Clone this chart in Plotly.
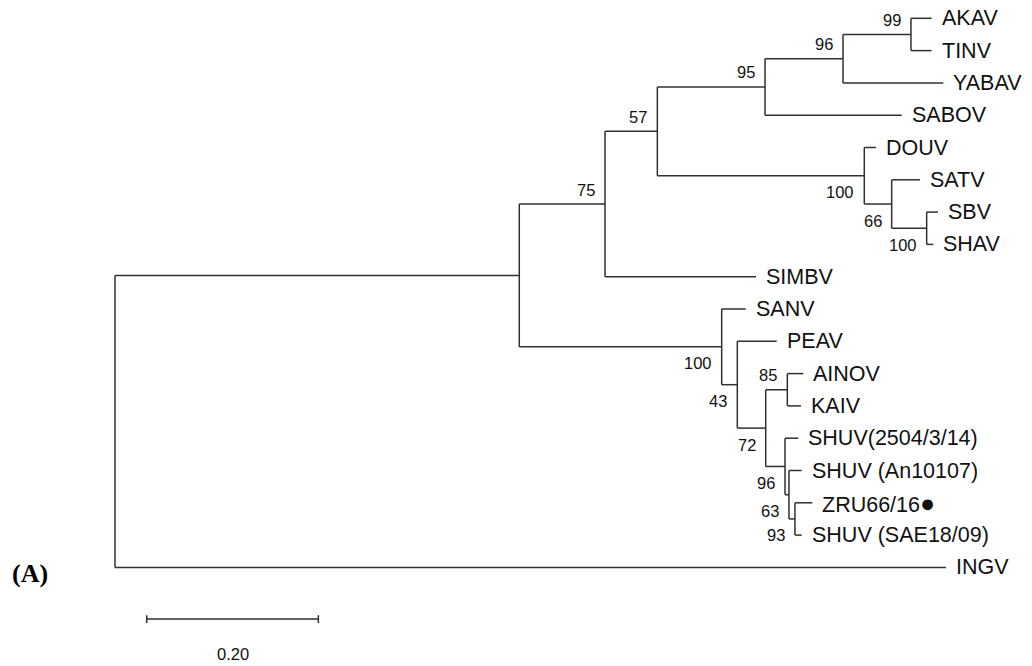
import plotly.graph_objects as go

# ---- tree data (preorder; children kept in drawing order) ----
node_names = ["root", "n1", "n75", "n57", "n95", "n96", "n99", "AKAV", "TINV", "YABAV",
              "SABOV", "n100a", "DOUV", "n66", "SATV", "n100b", "SBV", "SHAV", "SIMBV",
              "n100c", "SANV", "n43", "PEAV", "n72", "n85", "AINOV", "KAIV", "n96b",
              "SHUV(2504/3/14)", "n63", "SHUV (An10107)", "n93", "ZRU66/16", "SHUV (SAE18/09)",
              "INGV"]
node_parents = [-1, 0, 1, 2, 3, 4, 5, 6, 6, 5,
                4, 3, 11, 11, 13, 13, 15, 15, 2,
                1, 19, 19, 21, 21, 23, 24, 24, 23,
                27, 27, 29, 29, 31, 31,
                0]
branch_lengths = [0.0, 0.4712, 0.0999, 0.0610, 0.1255, 0.0909, 0.0792, 0.0241, 0.0241, 0.1169,
                  0.1593, 0.2412, 0.0136, 0.0319, 0.0330, 0.0408, 0.0132, 0.0077, 0.1760,
                  0.2359, 0.0280, 0.0182, 0.0459, 0.0331, 0.0252, 0.0186, 0.0159, 0.0225,
                  0.0155, 0.0046, 0.0148, 0.0070, 0.0202, 0.0078,
                  0.9685]
bootstrap = [None, None, 75, 57, 95, 96, 99, None, None, None,
             None, 100, None, 66, None, 100, None, None, None,
             100, None, 43, None, 72, 85, None, None, 96,
             None, 63, None, 93, None, None,
             None]
highlight_leaf = "ZRU66/16"
scale_length = 0.20
scale_label = "0.20"
scale_start = 0.037
panel_label = "(A)"

# ---- layout computation ----
n = len(node_names)
children = {i: [] for i in range(n)}
for i, p in enumerate(node_parents):
    if p >= 0:
        children[p].append(i)

depth = [0.0] * n
for i in range(n):
    p = node_parents[i]
    depth[i] = (depth[p] if p >= 0 else 0.0) + branch_lengths[i]

ypos = [None] * n
counter = [0]


def assign(i):
    if not children[i]:
        ypos[i] = counter[0]
        counter[0] += 1
    else:
        for c in children[i]:
            assign(c)
        ypos[i] = (ypos[children[i][0]] + ypos[children[i][-1]]) / 2.0


assign(0)

xs, ys = [], []
for i in range(n):
    p = node_parents[i]
    if p >= 0:
        xs += [depth[p], depth[i], None]
        ys += [ypos[i], ypos[i], None]
    if children[i]:
        xs += [depth[i], depth[i], None]
        ys += [ypos[children[i][0]], ypos[children[i][-1]], None]

LINE = "#303030"
fig = go.Figure()
fig.add_trace(go.Scatter(x=xs, y=ys, mode="lines", line=dict(color=LINE, width=1.5),
                         hoverinfo="skip", showlegend=False))

annotations = []
FONT = "Arial, Liberation Sans, sans-serif"
for i in range(n):
    if not children[i]:
        txt = node_names[i]
        if txt == highlight_leaf:
            txt = txt + "<span style='font-size:25px'>\u25CF</span>"
        annotations.append(dict(x=depth[i], y=ypos[i], text=txt, showarrow=False,
                                xanchor="left", yanchor="middle", xshift=8,
                                font=dict(family=FONT, size=21.5, color="#111111")))
    elif bootstrap[i] is not None:
        p = node_parents[i]
        first = children[p][0] == i
        annotations.append(dict(x=depth[i], y=ypos[i], text=str(bootstrap[i]), showarrow=False,
                                xanchor="right", yanchor="middle", xshift=-8,
                                yshift=14.5 if first else -16.5,
                                font=dict(family=FONT, size=16.5, color="#111111")))

# scale bar
n_leaves = counter[0]
bar_y = n_leaves + 0.6
fig.add_trace(go.Scatter(x=[scale_start, scale_start + scale_length], y=[bar_y, bar_y],
                         mode="lines", line=dict(color=LINE, width=1.5),
                         hoverinfo="skip", showlegend=False))
for xv in [scale_start, scale_start + scale_length]:
    fig.add_trace(go.Scatter(x=[xv, xv], y=[bar_y - 0.12, bar_y + 0.12], mode="lines",
                             line=dict(color=LINE, width=1.5), hoverinfo="skip", showlegend=False))
annotations.append(dict(x=scale_start + scale_length / 2, y=bar_y, text=scale_label, showarrow=False,
                        xanchor="center", yanchor="middle", yshift=-35,
                        font=dict(family=FONT, size=16.5, color="#111111")))

# page has an 8px body margin: figure pixel f shows at page pixel f + 8
OFF = 8
W, H = 1032 - OFF, 666 - OFF
annotations.append(dict(x=(10 - OFF) / W, y=1 - (573 - OFF) / H, xref="paper", yref="paper",
                        text="<b>" + panel_label + "</b>",
                        showarrow=False, xanchor="left", yanchor="middle",
                        font=dict(family="Liberation Serif, Times New Roman, serif", size=26, color="#000000")))

fig.update_layout(
    width=W, height=H,
    margin=dict(l=0, r=0, t=0, b=0),
    plot_bgcolor="white", paper_bgcolor="white",
    xaxis=dict(range=[(OFF - 115) / 858, (1032 - 115) / 858], visible=False, showgrid=False, zeroline=False),
    yaxis=dict(range=[(666 - 18.3) / 32.3, (OFF - 18.3) / 32.3], visible=False, showgrid=False, zeroline=False),
    annotations=annotations,
    showlegend=False,
)

fig.write_html("out.html")
